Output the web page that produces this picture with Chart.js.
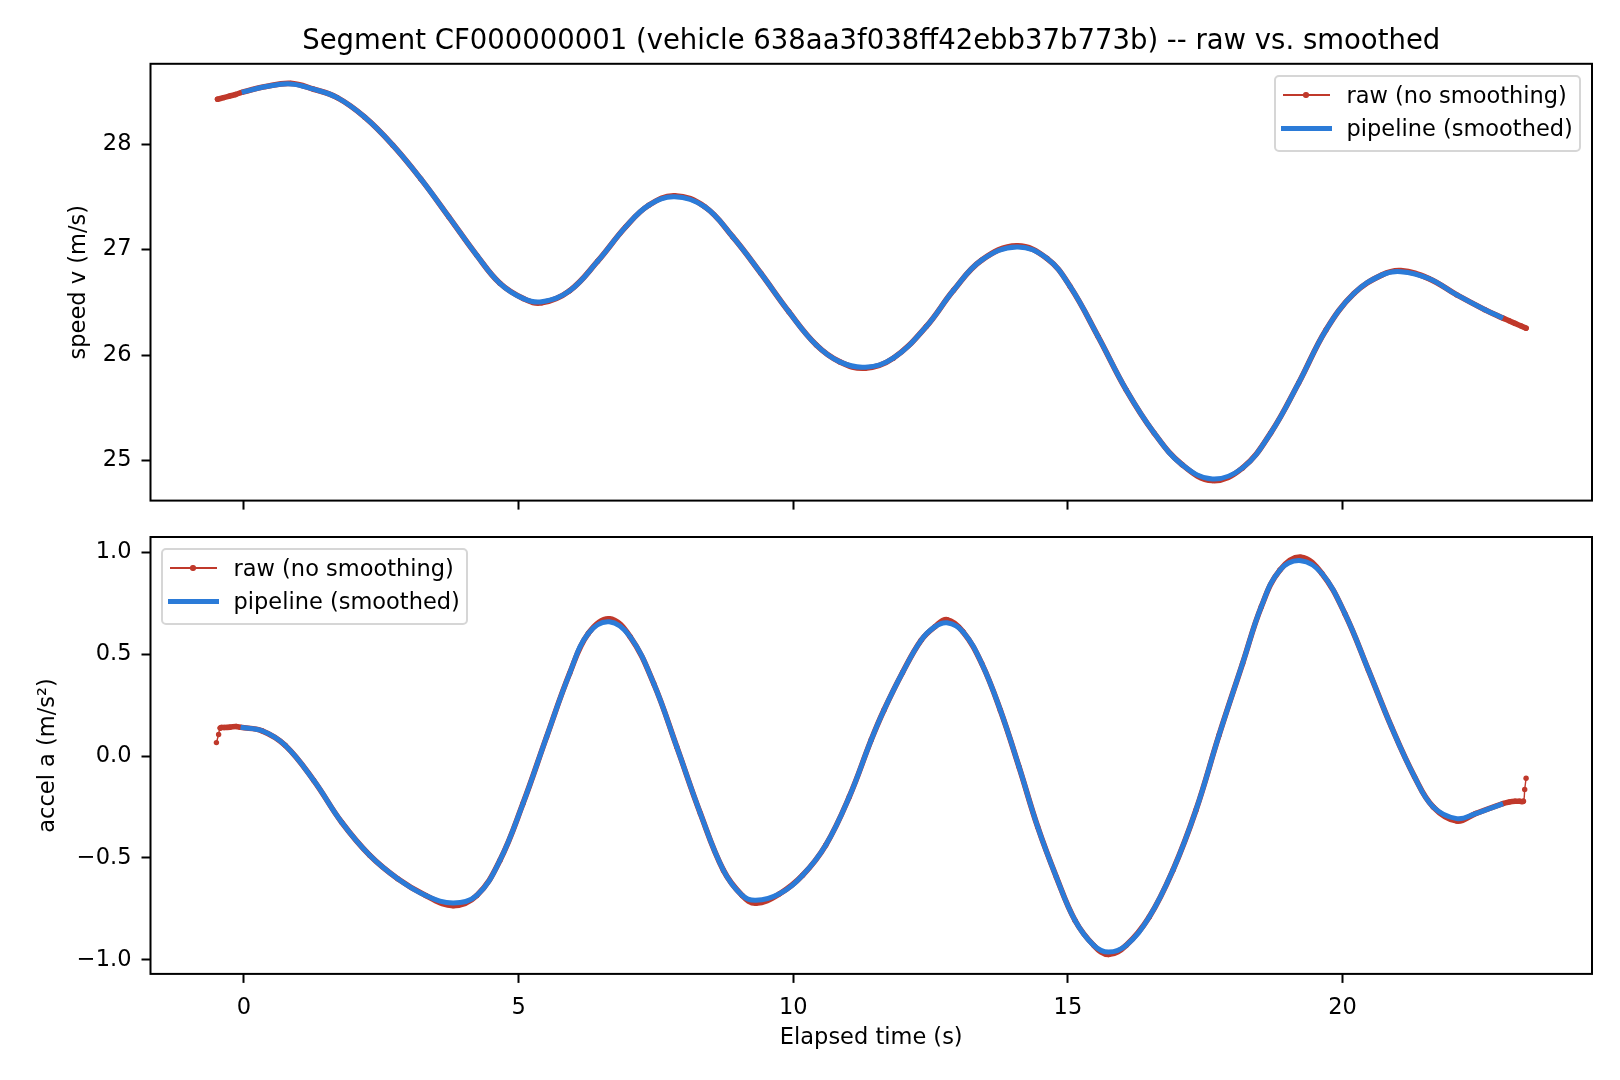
<!DOCTYPE html>
<html>
<head>
<meta charset="utf-8">
<script src="https://cdn.jsdelivr.net/npm/chart.js@4.4.1/dist/chart.umd.min.js"></script>
<style>
  html, body { margin:0; padding:0; background:#fff; }
  #wrap { position:relative; width:1620px; height:1080px; overflow:hidden; background:#fff; }
  #wrap canvas { position:absolute; left:0; }
  #speed-canvas { top:0; }
  #accel-canvas { top:520px; }
  .legend { position:absolute; width:307px; height:77px; box-sizing:border-box;
            border:2px solid #d6d6d6; border-radius:5px; background:rgba(255,255,255,0.8);
            font-family:'DejaVu Sans', sans-serif; font-size:22.5px; color:#000; }
  .legend .txt { position:absolute; left:70.5px; height:27px; line-height:27px; white-space:nowrap; }
  .legend .ln, .legend .dot { position:absolute; }
  .legend .dot { border-radius:50%; }
</style>
</head>
<body>
<div id="wrap">
  <canvas id="speed-canvas" width="1620" height="520"></canvas>
  <canvas id="accel-canvas" width="1620" height="560"></canvas>
  <div class="legend" id="speed-legend" style="left:1274px;top:75px"></div>
  <div class="legend" id="accel-legend" style="left:161px;top:548px"></div>
</div>
<script>
// tick values
let x_ticks     = [0, 5, 10, 15, 20];
let speed_ticks = [25, 26, 27, 28];
let accel_ticks = [-1.0, -0.5, 0.0, 0.5, 1.0];

// speed, raw samples
let time_raw_v = [-0.48, -0.37, -0.26, -0.15, -0.04, 0.40, 0.85, 1.27, 1.70, 2.20, 2.71, 3.22, 3.73, 4.24,
  4.66, 5.09, 5.42, 5.93, 6.44, 6.95, 7.37, 7.84, 8.39, 8.90, 9.41, 9.92, 10.42, 10.85, 11.31, 11.82,
  12.42, 12.92, 13.43, 14.07, 14.62, 15.04, 15.55, 16.06, 16.57, 17.08, 17.63, 18.18, 18.69, 19.20,
  19.70, 20.21, 20.72, 21.06, 21.57, 22.08, 22.59, 22.92, 23.03, 23.14, 23.25, 23.34];
let speed_raw = [28.425, 28.44, 28.455, 28.47, 28.49, 28.545, 28.575, 28.52, 28.44, 28.255, 27.99, 27.67,
  27.31, 26.945, 26.68, 26.535, 26.495, 26.61, 26.89, 27.215, 27.42, 27.51, 27.405, 27.12, 26.775, 26.41,
  26.095, 25.935, 25.875, 25.97, 26.27, 26.615, 26.90, 27.035, 26.915, 26.65, 26.175, 25.67, 25.26, 24.96,
  24.81, 24.93, 25.26, 25.735, 26.24, 26.585, 26.76, 26.80, 26.725, 26.57, 26.43, 26.35, 26.325, 26.30,
  26.275, 26.255];

// speed, pipeline output
let time_smooth_v = [-0.04, 0.40, 0.85, 1.27, 1.70, 2.20, 2.71, 3.22, 3.73, 4.24, 4.66, 5.09, 5.42, 5.93,
  6.44, 6.95, 7.37, 7.84, 8.39, 8.90, 9.41, 9.92, 10.42, 10.85, 11.31, 11.82, 12.42, 12.92, 13.43, 14.07,
  14.62, 15.04, 15.55, 16.06, 16.57, 17.08, 17.63, 18.18, 18.69, 19.20, 19.70, 20.21, 20.72, 21.06, 21.57,
  22.08, 22.59, 22.92];
let speed_smooth = [28.49, 28.545, 28.57, 28.52, 28.44, 28.255, 27.99, 27.67, 27.31, 26.945, 26.68, 26.535,
  26.505, 26.61, 26.89, 27.215, 27.42, 27.50, 27.405, 27.12, 26.775, 26.41, 26.095, 25.935, 25.885, 25.97,
  26.27, 26.615, 26.90, 27.025, 26.915, 26.65, 26.175, 25.67, 25.26, 24.96, 24.825, 24.93, 25.26, 25.735,
  26.24, 26.585, 26.76, 26.79, 26.725, 26.57, 26.43, 26.35];

// accel, raw samples
let time_raw_a = [-0.50, -0.46, -0.43, -0.36, -0.25, -0.14, -0.06, 0.33, 0.75, 1.27, 1.78, 2.29, 2.80, 3.31,
  3.81, 4.24, 4.66, 5.08, 5.51, 5.93, 6.27, 6.65, 7.03, 7.46, 7.88, 8.31, 8.73, 9.07, 9.32, 9.75, 10.17,
  10.59, 11.02, 11.42, 11.65, 11.99, 12.33, 12.58, 12.80, 13.09, 13.43, 13.77, 14.11, 14.45, 14.79, 15.13,
  15.47, 15.74, 16.06, 16.48, 16.91, 17.33, 17.75, 18.18, 18.52, 18.86, 19.24, 19.62, 20.04, 20.47, 20.89,
  21.31, 21.65, 22.08, 22.42, 22.92, 23.03, 23.14, 23.22, 23.29, 23.315, 23.34];
let accel_raw = [0.066, 0.106, 0.138, 0.140, 0.142, 0.145, 0.141, 0.124, 0.053, -0.119, -0.325, -0.487,
  -0.602, -0.684, -0.734, -0.684, -0.512, -0.233, 0.094, 0.406, 0.602, 0.674, 0.586, 0.356, 0.045, -0.282,
  -0.561, -0.684, -0.722, -0.676, -0.585, -0.438, -0.200, 0.080, 0.225, 0.410, 0.569, 0.635, 0.669, 0.610,
  0.455, 0.225, -0.053, -0.348, -0.594, -0.807, -0.929, -0.974, -0.929, -0.790, -0.561, -0.266, 0.102,
  0.455, 0.733, 0.913, 0.976, 0.897, 0.700, 0.422, 0.143, -0.102, -0.250, -0.319, -0.282, -0.233, -0.226,
  -0.222, -0.222, -0.222, -0.164, -0.109];

// accel, pipeline output
let time_smooth_a = [-0.06, 0.33, 0.75, 1.27, 1.78, 2.29, 2.80, 3.31, 3.81, 4.24, 4.66, 5.08, 5.51, 5.93,
  6.27, 6.65, 7.03, 7.46, 7.88, 8.31, 8.73, 9.07, 9.32, 9.75, 10.17, 10.59, 11.02, 11.42, 11.65, 11.99,
  12.33, 12.58, 12.80, 13.09, 13.43, 13.77, 14.11, 14.45, 14.79, 15.13, 15.47, 15.74, 16.06, 16.48, 16.91,
  17.33, 17.75, 18.18, 18.52, 18.86, 19.24, 19.62, 20.04, 20.47, 20.89, 21.31, 21.65, 22.08, 22.42, 22.92];
let accel_smooth = [0.141, 0.124, 0.053, -0.119, -0.325, -0.487, -0.602, -0.684, -0.721, -0.684, -0.512,
  -0.233, 0.094, 0.406, 0.602, 0.659, 0.586, 0.356, 0.045, -0.282, -0.561, -0.684, -0.708, -0.676, -0.585,
  -0.438, -0.200, 0.080, 0.225, 0.410, 0.569, 0.635, 0.654, 0.610, 0.455, 0.225, -0.053, -0.348, -0.594,
  -0.807, -0.929, -0.962, -0.929, -0.790, -0.561, -0.266, 0.102, 0.455, 0.733, 0.913, 0.959, 0.897, 0.700,
  0.422, 0.143, -0.102, -0.250, -0.307, -0.282, -0.233];

const RED  = '#c0392b';
const BLUE = '#2b7bd8';

Chart.defaults.font.family = "'DejaVu Sans', sans-serif";
Chart.defaults.font.size = 22.5;
Chart.defaults.color = '#000';

function toPoints(xs, ys) {
  return xs.map((x, i) => ({x: x, y: ys[i]}));
}

function fixedTicks(list) {
  return function(scale) { scale.ticks = list.map(v => ({value: v})); };
}

// full box round the plot area, like matplotlib spines
const framePlugin = {
  id: 'frame',
  afterDraw(chart) {
    const a = chart.chartArea, ctx = chart.ctx;
    ctx.save();
    ctx.strokeStyle = '#000';
    ctx.lineWidth = 2;
    ctx.strokeRect(a.left, a.top, a.right - a.left, a.bottom - a.top);
    ctx.restore();
  }
};

const tickGrid = {drawOnChartArea: false, drawTicks: true, tickLength: 9, tickWidth: 2, tickColor: '#000'};

// dense raw markers read as a thick band; only the steep jumps at the ends show the thin line
function rawWidth(ctx) {
  const dx = Math.abs(ctx.p1.x - ctx.p0.x), dy = Math.abs(ctx.p1.y - ctx.p0.y);
  return (dx < 5 && dy > 2 * dx) ? 1.4 : 5.6;
}

function makeDatasets(tRaw, yRaw, tSm, ySm) {
  return [
    {
      label: 'raw (no smoothing)',
      data: toPoints(tRaw, yRaw),
      borderColor: RED, backgroundColor: RED,
      borderWidth: 1.4, borderJoinStyle: 'round', borderCapStyle: 'round',
      segment: {borderWidth: rawWidth},
      pointRadius: 2.7, pointBorderWidth: 0, pointBackgroundColor: RED,
      tension: 0.4,
      order: 2
    },
    {
      label: 'pipeline (smoothed)',
      data: toPoints(tSm, ySm),
      borderColor: BLUE, backgroundColor: BLUE,
      borderWidth: 5, borderJoinStyle: 'round',
      pointRadius: 0,
      tension: 0.4,
      order: 1
    }
  ];
}

function xScale(height, showLabels) {
  return {
    type: 'linear', min: -1.70, max: 24.54,
    afterBuildTicks: fixedTicks(x_ticks),
    afterFit(scale) { scale.height = height; scale.paddingLeft = 0; scale.paddingRight = 0; },
    ticks: {display: showLabels, padding: 11.7, maxRotation: 0, callback: v => String(v)},
    grid: tickGrid,
    border: {display: false},
    title: {display: showLabels, text: 'Elapsed time (s)', padding: {top: 0, bottom: 28.5}}
  };
}

function yFit(scale) {
  scale.width = 150.5;
  scale.paddingTop = 0;
  scale.paddingBottom = 0;
}

const speedChart = new Chart(document.getElementById('speed-canvas').getContext('2d'), {
  type: 'line',
  data: {datasets: makeDatasets(time_raw_v, speed_raw, time_smooth_v, speed_smooth)},
  options: {
    responsive: false, animation: false, devicePixelRatio: 1,
    layout: {padding: {left: 0, right: 28, top: 0, bottom: 0}},
    scales: {
      x: xScale(19.4, false),
      y: {
        type: 'linear', min: 24.62, max: 28.761,
        afterBuildTicks: fixedTicks(speed_ticks),
        afterFit: yFit,
        ticks: {padding: 10, callback: v => String(v)},
        grid: tickGrid,
        border: {display: false},
        title: {display: true, text: 'speed v (m/s)', padding: {top: 65.5, bottom: 0}}
      }
    },
    plugins: {
      legend: {display: false},
      tooltip: {enabled: false},
      title: {
        display: true, fullSize: false,
        text: 'Segment CF000000001 (vehicle 638aa3f038ff42ebb37b773b) -- raw vs. smoothed',
        font: {size: 27.5, weight: 'normal'}, color: '#000',
        padding: {top: 25.8, bottom: 5}
      }
    }
  },
  plugins: [framePlugin]
});

const accelChart = new Chart(document.getElementById('accel-canvas').getContext('2d'), {
  type: 'line',
  data: {datasets: makeDatasets(time_raw_a, accel_raw, time_smooth_a, accel_smooth)},
  options: {
    responsive: false, animation: false, devicePixelRatio: 1,
    layout: {padding: {left: 0, right: 28, top: 17, bottom: 0}},
    scales: {
      x: xScale(106.1, true),
      y: {
        type: 'linear', min: -1.069, max: 1.075,
        afterBuildTicks: fixedTicks(accel_ticks),
        afterFit: yFit,
        ticks: {padding: 10, callback: v => (v < 0 ? '\u2212' : '') + Math.abs(v).toFixed(1)},
        grid: tickGrid,
        border: {display: false},
        title: {display: true, text: 'accel a (m/s\u00b2)', padding: {top: 34.8, bottom: 0}}
      }
    },
    plugins: {
      legend: {display: false},
      tooltip: {enabled: false}
    }
  },
  plugins: [framePlugin]
});

// html legend built from the chart's datasets
function buildLegend(el, chart) {
  const rows = [18, 51.4];
  chart.data.datasets.forEach((ds, i) => {
    const c = rows[i];
    const ln = document.createElement('div');
    ln.className = 'ln';
    ln.style.background = ds.borderColor;
    if (ds.pointRadius > 0) {
      ln.style.left = '6.5px'; ln.style.width = '47px';
      ln.style.top = (c - ds.borderWidth / 2) + 'px'; ln.style.height = ds.borderWidth + 'px';
      const dot = document.createElement('div');
      dot.className = 'dot';
      dot.style.background = ds.pointBackgroundColor;
      dot.style.left = (30 - 2.7) + 'px'; dot.style.top = (c - 2.7) + 'px';
      dot.style.width = '5.4px'; dot.style.height = '5.4px';
      el.appendChild(ln);
      el.appendChild(dot);
    } else {
      ln.style.left = '4.5px'; ln.style.width = '51px';
      ln.style.top = (c - ds.borderWidth / 2) + 'px'; ln.style.height = ds.borderWidth + 'px';
      el.appendChild(ln);
    }
    const txt = document.createElement('div');
    txt.className = 'txt';
    txt.style.top = (c - 13.5) + 'px';
    txt.textContent = ds.label;
    el.appendChild(txt);
  });
}
buildLegend(document.getElementById('speed-legend'), speedChart);
buildLegend(document.getElementById('accel-legend'), accelChart);
</script>
</body>
</html>
